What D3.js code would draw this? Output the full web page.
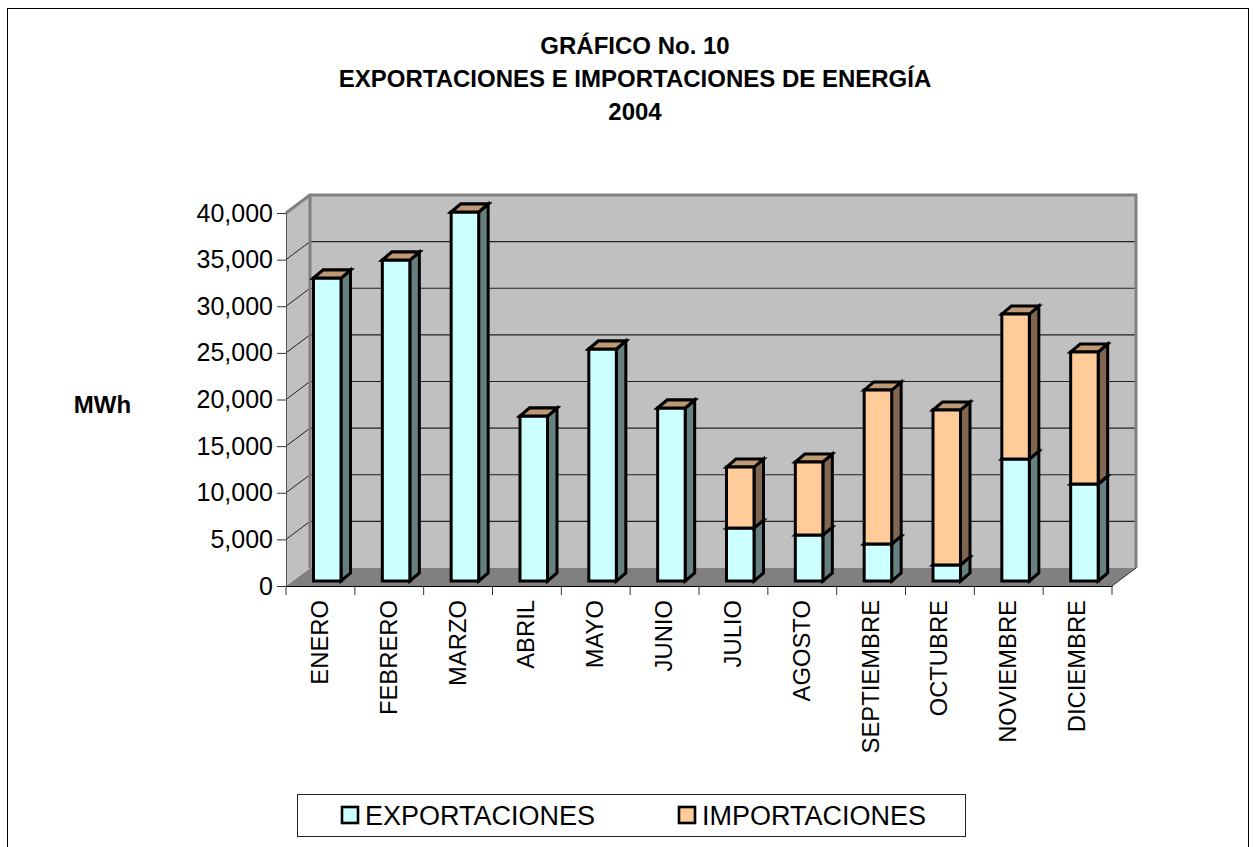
<!DOCTYPE html>
<html>
<head>
<meta charset="utf-8">
<script src="https://d3js.org/d3.v7.min.js"></script>
<style>
  html, body { margin: 0; padding: 0; background: #fff; overflow: hidden; }
  svg { display: block; }
  text { font-family: 'Liberation Sans', Arial, sans-serif; fill: #000; }
</style>
</head>
<body>
<svg></svg>
<script>
// Data
var months = ['ENERO', 'FEBRERO', 'MARZO', 'ABRIL', 'MAYO', 'JUNIO', 'JULIO', 'AGOSTO', 'SEPTIEMBRE', 'OCTUBRE', 'NOVIEMBRE', 'DICIEMBRE'];
var exportaciones = [32490, 34420, 39570, 17690, 24880, 18550, 5680, 4930, 3970, 1720, 13080, 10400];
var importaciones = [0, 0, 0, 0, 0, 0, 6540, 7830, 16510, 16620, 15550, 14160];
var yTicks = [0, 5000, 10000, 15000, 20000, 25000, 30000, 35000, 40000];
var titleLines = ['GRÁFICO No. 10', 'EXPORTACIONES E IMPORTACIONES DE ENERGÍA', '2004'];
var seriesNames = ['EXPORTACIONES', 'IMPORTACIONES'];

// Dimensions
var width = 1256;
var height = 847;
var left = 286, right = 1112, bottom = 586, top_ = 213;
var depthX = 24, depthY = -18;     // wall depth
var barDX = 9.5, barDY = -8;       // bar depth
var barShiftY = -5;                // bars stand a little back on the floor
var barOffset = 27.5;              // from band start to bar face
var barWidth = 27.5;

// colours: face, side, top
var colors = [
  { face: '#CCFFFF', side: '#668080', top: '#BF9973' },
  { face: '#FFCC99', side: '#806650', top: '#BF9973' }
];

var svg = d3.select('svg')
  .attr('width', width)
  .attr('height', height);

// Outer frame, runs off the bottom of the page
svg.append('rect')
  .attr('x', 7.5).attr('y', 8.5)
  .attr('width', 1241).attr('height', 900)
  .attr('fill', '#fff').attr('stroke', '#000').attr('stroke-width', 1);

// Title
svg.append('g').selectAll('text')
  .data(titleLines)
  .enter().append('text')
    .attr('x', 635)
    .attr('y', function (d, i) { return 54 + i * 33; })
    .attr('text-anchor', 'middle')
    .attr('font-size', 24)
    .attr('font-weight', 'bold')
    .text(function (d) { return d; });

// Scales
var x = d3.scaleBand().domain(months).range([left, right]);
var y = d3.scaleLinear().domain([0, 40000]).range([bottom, top_]);

function poly(points) {
  return 'M' + points.map(function (p) { return p[0] + ',' + p[1]; }).join('L') + 'Z';
}

// Floor and walls
svg.append('path')
  .attr('d', poly([[left, bottom], [left + depthX, bottom + depthY], [right + depthX, bottom + depthY], [right, bottom]]))
  .attr('fill', '#808080');

svg.append('path')
  .attr('d', poly([[left, bottom], [left, top_], [left + depthX, top_ + depthY], [left + depthX, bottom + depthY]]))
  .attr('fill', '#C0C0C0');

svg.append('rect')
  .attr('x', left + depthX).attr('y', top_ + depthY)
  .attr('width', right - left).attr('height', bottom - top_)
  .attr('fill', '#C0C0C0');

// Gridlines, back wall and side wall
var grid = svg.append('g');
yTicks.slice(1).forEach(function (t) {
  grid.append('line')
    .attr('x1', left + depthX).attr('x2', right + depthX)
    .attr('y1', y(t) + depthY).attr('y2', y(t) + depthY)
    .attr('stroke', '#222').attr('stroke-width', 1.2);
  grid.append('line')
    .attr('x1', left).attr('x2', left + depthX)
    .attr('y1', y(t)).attr('y2', y(t) + depthY)
    .attr('stroke', '#222').attr('stroke-width', 1);
});

// Wall edges
svg.append('path')
  .attr('d', 'M' + (left + depthX) + ',' + (bottom + depthY) + 'V' + (top_ + depthY) + 'H' + (right + depthX) + 'V' + (bottom + depthY))
  .attr('fill', 'none').attr('stroke', '#808080').attr('stroke-width', 3);
svg.append('path')
  .attr('d', 'M' + left + ',' + top_ + 'L' + (left + depthX) + ',' + (top_ + depthY))
  .attr('fill', 'none').attr('stroke', '#808080').attr('stroke-width', 3);
svg.append('path')
  .attr('d', 'M' + right + ',' + bottom + 'L' + (right + depthX) + ',' + (bottom + depthY))
  .attr('fill', 'none').attr('stroke', '#333').attr('stroke-width', 1);

// Axes
var yAxis = d3.axisLeft(y)
  .tickValues(yTicks)
  .tickSizeInner(9)
  .tickSizeOuter(0)
  .tickPadding(4)
  .tickFormat(d3.format(','));

var yG = svg.append('g')
  .attr('transform', 'translate(' + left + ',0)')
  .call(yAxis);
yG.selectAll('text').attr('font-size', 25).attr('font-family', "'Liberation Sans', Arial, sans-serif");
yG.selectAll('line').attr('stroke', '#333');
yG.select('.domain').attr('stroke', '#555');

var xAxis = d3.axisBottom(x).tickSize(0).tickPadding(0);
var xG = svg.append('g')
  .attr('transform', 'translate(0,' + bottom + ')')
  .call(xAxis);
xG.select('.domain').attr('stroke', '#000');
xG.selectAll('text')
  .attr('font-size', 23.8)
  .attr('font-family', "'Liberation Sans', Arial, sans-serif")
  .attr('text-anchor', 'end')
  .attr('dy', null)
  .attr('y', 0)
  .attr('transform', 'translate(-1,14) rotate(-90) translate(0,8.5)');

// Tick marks sit between the categories
xG.selectAll('.edge')
  .data(months.concat(['end']))
  .enter().append('line')
    .attr('class', 'edge')
    .attr('x1', function (d, i) { return left + i * x.bandwidth(); })
    .attr('x2', function (d, i) { return left + i * x.bandwidth(); })
    .attr('y1', 0).attr('y2', 9)
    .attr('stroke', '#333');

// Bars
var table = months.map(function (m, i) {
  return { month: m, EXPORTACIONES: exportaciones[i], IMPORTACIONES: importaciones[i] };
});
var layers = d3.stack().keys(seriesNames)(table);

layers.forEach(function (layer, li) {
  var c = colors[li];
  var g = svg.append('g');
  layer.forEach(function (d) {
    var x0 = x(d.data.month) + barOffset;
    var x1 = x0 + barWidth;
    var yb = y(d[0]) + barShiftY;
    var yt = y(d[1]) + barShiftY;
    var style = function (sel, fill) {
      sel.attr('fill', fill)
        .attr('stroke', '#000')
        .attr('stroke-width', 3)
        .attr('stroke-linejoin', 'miter');
    };
    g.append('path')
      .attr('d', poly([[x1, yb], [x1 + barDX, yb + barDY], [x1 + barDX, yt + barDY], [x1, yt]]))
      .call(style, c.side);
    g.append('path')
      .attr('d', poly([[x0, yt], [x0 + barDX, yt + barDY], [x1 + barDX, yt + barDY], [x1, yt]]))
      .call(style, c.top);
    g.append('rect')
      .attr('x', x0).attr('y', yt)
      .attr('width', barWidth).attr('height', yb - yt)
      .call(style, c.face);
  });
});

// Y axis title
svg.append('text')
  .attr('x', 102.5).attr('y', 413)
  .attr('text-anchor', 'middle')
  .attr('font-size', 24)
  .attr('font-weight', 'bold')
  .text('MWh');

// Legend
var legend = svg.append('g');
legend.append('rect')
  .attr('x', 297.5).attr('y', 794.5)
  .attr('width', 668).attr('height', 42)
  .attr('fill', '#fff').attr('stroke', '#222').attr('stroke-width', 1);

var legendX = [342, 679];
seriesNames.forEach(function (name, i) {
  legend.append('rect')
    .attr('x', legendX[i]).attr('y', 807)
    .attr('width', 16).attr('height', 16)
    .attr('fill', colors[i].face)
    .attr('stroke', '#000').attr('stroke-width', 2.6);
  legend.append('text')
    .attr('x', legendX[i] + 23).attr('y', 825)
    .attr('font-size', 27)
    .text(name);
});
</script>
</body>
</html>
